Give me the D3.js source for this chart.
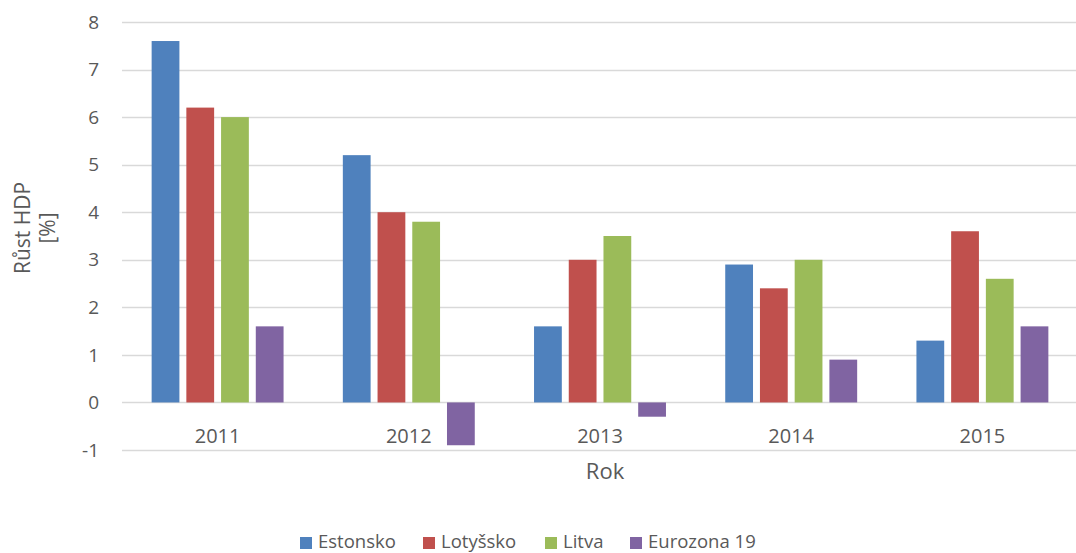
<!DOCTYPE html>
<html>
<head>
<meta charset="utf-8">
<script src="https://cdn.jsdelivr.net/npm/d3@7"></script>
<style>
  body { margin: 0; background: #fff; }
  svg { display: block; font-family: "Open Sans", sans-serif; }
</style>
</head>
<body>
<svg id="chart"></svg>
<script>
var years = ["2011", "2012", "2013", "2014", "2015"];
var seriesNames = ["Estonsko", "Lotyšsko", "Litva", "Eurozona 19"];
var estonsko = [7.6, 5.2, 1.6, 2.9, 1.3];
var lotyssko = [6.2, 4.0, 3.0, 2.4, 3.6];
var litva = [6.0, 3.8, 3.5, 3.0, 2.6];
var eurozona = [1.6, -0.9, -0.3, 0.9, 1.6];
var yTicks = [-1, 0, 1, 2, 3, 4, 5, 6, 7, 8];

var width = 1076,
    height = 553;

var colors = ["#4f81bd", "#c0504d", "#9bbb59", "#8064a2"];
var values = [estonsko, lotyssko, litva, eurozona];

var chart = d3.select("#chart")
    .attr("width", width)
    .attr("height", height);

var plotLeft = 122, plotRight = 1078, plotTop = 22, plotBottom = 450;

var x = d3.scaleBand()
    .domain(years)
    .range([plotLeft, plotRight])
    .paddingInner(0.31)
    .paddingOuter(0.155);

var xSub = d3.scaleBand()
    .domain(seriesNames)
    .range([0, x.bandwidth()])
    .paddingInner(0.2);

var y = d3.scaleLinear()
    .domain([-1, 8])
    .range([plotBottom, plotTop]);

// gridlines
chart.append("g")
    .selectAll("line")
    .data(yTicks)
    .enter().append("line")
    .attr("x1", plotLeft)
    .attr("x2", width)
    .attr("y1", function(d) { return Math.round(y(d)) + 0.5; })
    .attr("y2", function(d) { return Math.round(y(d)) + 0.5; })
    .style("stroke", "#d9d9d9")
    .style("stroke-width", 1.5);

// y tick labels
chart.append("g")
    .selectAll("text")
    .data(yTicks)
    .enter().append("text")
    .attr("x", 99)
    .attr("y", function(d) { return y(d); })
    .attr("dy", "0.35em")
    .attr("text-anchor", "end")
    .style("font-size", "19px")
    .style("fill", "#595959")
    .text(function(d) { return d; });

// bars
var groups = chart.append("g")
    .selectAll("g")
    .data(years)
    .enter().append("g")
    .attr("transform", function(d) { return "translate(" + x(d) + ",0)"; });

groups.selectAll("rect")
    .data(function(d, i) {
        return seriesNames.map(function(s, j) {
            return { series: s, value: values[j][i], color: colors[j] };
        });
    })
    .enter().append("rect")
    .attr("x", function(d) { return xSub(d.series); })
    .attr("width", xSub.bandwidth())
    .attr("y", function(d) { return y(Math.max(0, d.value)); })
    .attr("height", function(d) { return Math.abs(y(d.value) - y(0)); })
    .style("fill", function(d) { return d.color; });

// year labels
chart.append("g")
    .selectAll("text")
    .data(years)
    .enter().append("text")
    .attr("x", function(d) { return x(d) + x.bandwidth() / 2; })
    .attr("y", 443)
    .attr("text-anchor", "middle")
    .style("font-size", "20px")
    .style("fill", "#595959")
    .text(function(d) { return d; });

// axis titles
chart.append("text")
    .attr("x", 605)
    .attr("y", 479)
    .attr("text-anchor", "middle")
    .style("font-size", "22px")
    .style("fill", "#595959")
    .text("Rok");

var yTitle = chart.append("text")
    .attr("transform", "translate(0,228) rotate(-90)")
    .attr("text-anchor", "middle")
    .style("font-size", "21px")
    .style("fill", "#595959");
yTitle.append("tspan").attr("x", 0).attr("y", 30).text("Růst HDP");
yTitle.append("tspan").attr("x", 0).attr("y", 55).text("[%]");

// legend
var legendX = [300, 423, 545, 630];
var legend = chart.append("g")
    .selectAll("g")
    .data(seriesNames)
    .enter().append("g")
    .attr("transform", function(d, i) { return "translate(" + legendX[i] + ",0)"; });

legend.append("rect")
    .attr("x", 0)
    .attr("y", 537)
    .attr("width", 12)
    .attr("height", 12)
    .style("fill", function(d, i) { return colors[i]; });

legend.append("text")
    .attr("x", 18)
    .attr("y", 548)
    .style("font-size", "18.5px")
    .style("fill", "#595959")
    .text(function(d) { return d; });
</script>
</body>
</html>
